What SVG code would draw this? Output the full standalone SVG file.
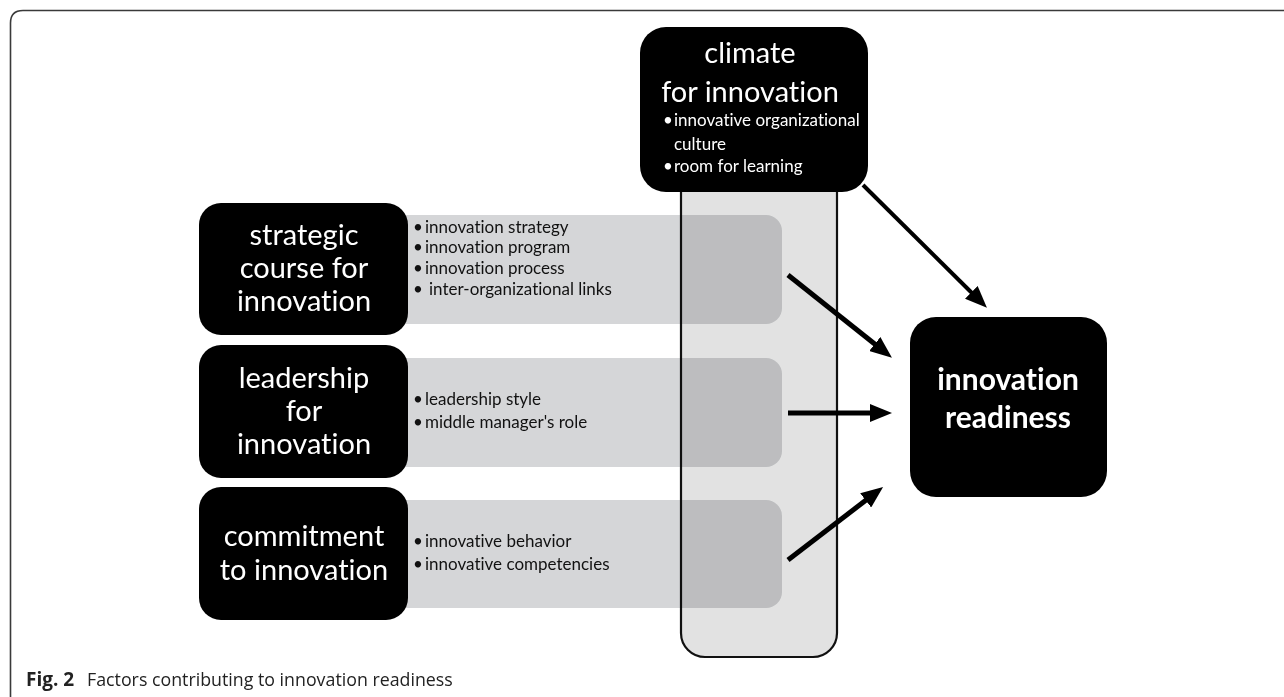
<svg xmlns="http://www.w3.org/2000/svg" width="1284" height="697" viewBox="0 0 1284 697">
  <style>
    text { font-variant-ligatures: none; font-feature-settings: "liga" 0, "dlig" 0, "clig" 0; }
    .frame { fill: none; stroke: #3a3a3a; stroke-width: 1.6; }
    .node { fill: #000; }
    .bar { fill: #d5d6d8; mix-blend-mode: multiply; }
    .column { fill: #e2e2e2; stroke: #111; stroke-width: 2.2; }
    .title { font-family: Lato, "Liberation Sans", sans-serif; font-size: 29px; fill: #fff; text-anchor: middle; }
    .goal { font-family: Lato, "Liberation Sans", sans-serif; font-size: 30px; font-weight: bold; fill: #fff; text-anchor: middle; }
    .item { font-family: Lato, "Liberation Sans", sans-serif; font-size: 17px; fill: #111; }
    .item-w { font-family: Lato, "Liberation Sans", sans-serif; font-size: 17px; fill: #fff; }
    .link { fill: none; stroke: #000; stroke-width: 5; }
    .link-thin { fill: none; stroke: #000; stroke-width: 4; }
    .cap { font-family: "Open Sans", "Noto Sans", sans-serif; font-size: 17.8px; fill: #222; }
  </style>
  <defs>
    <marker id="head" markerUnits="userSpaceOnUse" viewBox="0 0 22 18" markerWidth="22" markerHeight="18" refX="8" refY="9" orient="auto">
      <path d="M0,0 L22,9 L0,18 z" fill="#000"/>
    </marker>
  </defs>

  <rect width="1284" height="697" fill="#fff"/>

  <!-- figure frame -->
  <path class="frame" d="M10.5 697 V23 Q10.5 10.5 23 10.5 H1284"/>

  <!-- shared climate column behind the factor bars -->
  <g id="climate-column">
    <rect class="column" x="681" y="150" width="156" height="507" rx="24"/>
  </g>

  <!-- factor detail bars -->
  <g id="bars">
    <rect class="bar" x="380" y="215" width="402" height="109" rx="16"/>
    <rect class="bar" x="380" y="358" width="402" height="109" rx="16"/>
    <rect class="bar" x="380" y="500" width="402" height="108" rx="16"/>
  </g>

  <g id="climate">
    <rect class="node" x="640" y="27" width="228" height="165" rx="26"/>
    <text class="title" x="750" y="63">climate</text>
    <text class="title" x="750" y="102">for innovation</text>
    <text class="item-w"><tspan x="663" y="126">•</tspan><tspan x="674" y="126">innovative organizational</tspan></text>
    <text class="item-w" x="674" y="150">culture</text>
    <text class="item-w"><tspan x="663" y="172">•</tspan><tspan x="674" y="172">room for learning</tspan></text>
  </g>

  <g id="strategic">
    <rect class="node" x="199" y="203" width="209" height="132" rx="22"/>
    <text class="title" x="304" y="245">strategic</text>
    <text class="title" x="304" y="278">course for</text>
    <text class="title" x="304" y="311">innovation</text>
    <text class="item"><tspan x="413" y="233">•</tspan><tspan x="425" y="233">innovation strategy</tspan></text>
    <text class="item"><tspan x="413" y="253">•</tspan><tspan x="425" y="253">innovation program</tspan></text>
    <text class="item"><tspan x="413" y="274">•</tspan><tspan x="425" y="274">innovation process</tspan></text>
    <text class="item"><tspan x="413" y="295">•</tspan><tspan x="429" y="295">inter-organizational links</tspan></text>
  </g>

  <g id="leadership">
    <rect class="node" x="199" y="345" width="209" height="133" rx="22"/>
    <text class="title" x="304" y="388">leadership</text>
    <text class="title" x="304" y="421">for</text>
    <text class="title" x="304" y="454">innovation</text>
    <text class="item"><tspan x="413" y="405">•</tspan><tspan x="425" y="405">leadership style</tspan></text>
    <text class="item"><tspan x="413" y="428">•</tspan><tspan x="425" y="428">middle manager's role</tspan></text>
  </g>

  <g id="commitment">
    <rect class="node" x="199" y="487" width="209" height="133" rx="22"/>
    <text class="title" x="304" y="546">commitment</text>
    <text class="title" x="304" y="580">to innovation</text>
    <text class="item"><tspan x="413" y="547">•</tspan><tspan x="425" y="547">innovative behavior</tspan></text>
    <text class="item"><tspan x="413" y="570">•</tspan><tspan x="425" y="570">innovative competencies</tspan></text>
  </g>

  <g id="readiness">
    <rect class="node" x="910" y="317" width="197" height="180" rx="26"/>
    <text class="goal" x="1008" y="390">innovation</text>
    <text class="goal" x="1008" y="428">readiness</text>
  </g>

  <!-- influences on innovation readiness -->
  <g id="connectors">
    <line class="link-thin" x1="863" y1="185" x2="977" y2="298" marker-end="url(#head)"/>
    <line class="link" x1="788" y1="275" x2="881" y2="349" marker-end="url(#head)"/>
    <line class="link" x1="788" y1="413" x2="878" y2="413" marker-end="url(#head)"/>
    <line class="link" x1="788" y1="560" x2="872" y2="495.5" marker-end="url(#head)"/>
  </g>

  <text class="cap" y="686"><tspan x="26" font-weight="bold" font-size="19px">Fig. 2</tspan><tspan x="87">Factors contributing to innovation readiness</tspan></text>
</svg>
